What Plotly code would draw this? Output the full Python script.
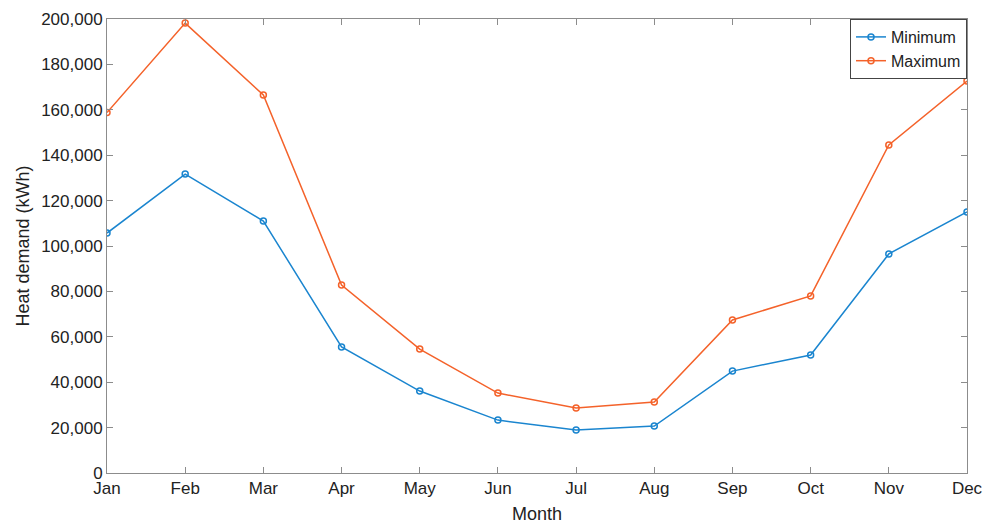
import plotly.graph_objects as go

months = ["Jan", "Feb", "Mar", "Apr", "May", "Jun", "Jul", "Aug", "Sep", "Oct", "Nov", "Dec"]
minimum = [105700, 131700, 111000, 55500, 36100, 23300, 18900, 20700, 44900, 52000, 96500, 115000]
maximum = [158800, 198200, 166500, 82800, 54600, 35200, 28600, 31300, 67400, 78000, 144500, 172700]
y_ticks = list(range(0, 200001, 20000))
y_tick_labels = [f"{v:,}" for v in y_ticks]

blue = "#1A85CF"
orange = "#F4622A"
font = "Liberation Sans, Arial, sans-serif"

fig = go.Figure()
fig.add_trace(go.Scatter(x=months, y=minimum, name="Minimum", mode="lines+markers",
                         line=dict(color=blue, width=1.5),
                         marker=dict(symbol="circle-open", size=6, color=blue, line=dict(width=1.5))))
fig.add_trace(go.Scatter(x=months, y=maximum, name="Maximum", mode="lines+markers",
                         line=dict(color=orange, width=1.5),
                         marker=dict(symbol="circle-open", size=6, color=orange, line=dict(width=1.5))))

fig.update_layout(
    width=985, height=527,
    margin=dict(l=107, r=18, t=19, b=54, autoexpand=False),
    paper_bgcolor="white", plot_bgcolor="white",
    font=dict(family=font, size=17, color="#222"),
    showlegend=True,
    legend=dict(x=1, y=1, xanchor="right", yanchor="top",
                bordercolor="#444", borderwidth=1, bgcolor="white",
                font=dict(size=16, color="#222"), tracegroupgap=0,
                itemwidth=30),
)
fig.update_xaxes(
    title=dict(text="Month", font=dict(size=18), standoff=9),
    range=[0, 11], showgrid=False, zeroline=False, automargin=False,
    showline=True, linecolor="#8c8c8c", linewidth=1, mirror="allticks",
    ticks="inside", ticklen=6, tickcolor="#8c8c8c",
    tickfont=dict(size=17),
)
fig.update_yaxes(
    title=dict(text="Heat demand (kWh)", font=dict(size=18), standoff=6),
    range=[0, 200000], showgrid=False, zeroline=False, automargin=False,
    tickvals=y_ticks, ticktext=y_tick_labels,
    showline=True, linecolor="#8c8c8c", linewidth=1, mirror="allticks",
    ticks="inside", ticklen=6, tickcolor="#8c8c8c",
    tickfont=dict(size=17),
)

fig.write_html("out.html", config={"displayModeBar": False},
               post_script="document.body.style.margin='0';document.body.style.overflow='hidden';")
